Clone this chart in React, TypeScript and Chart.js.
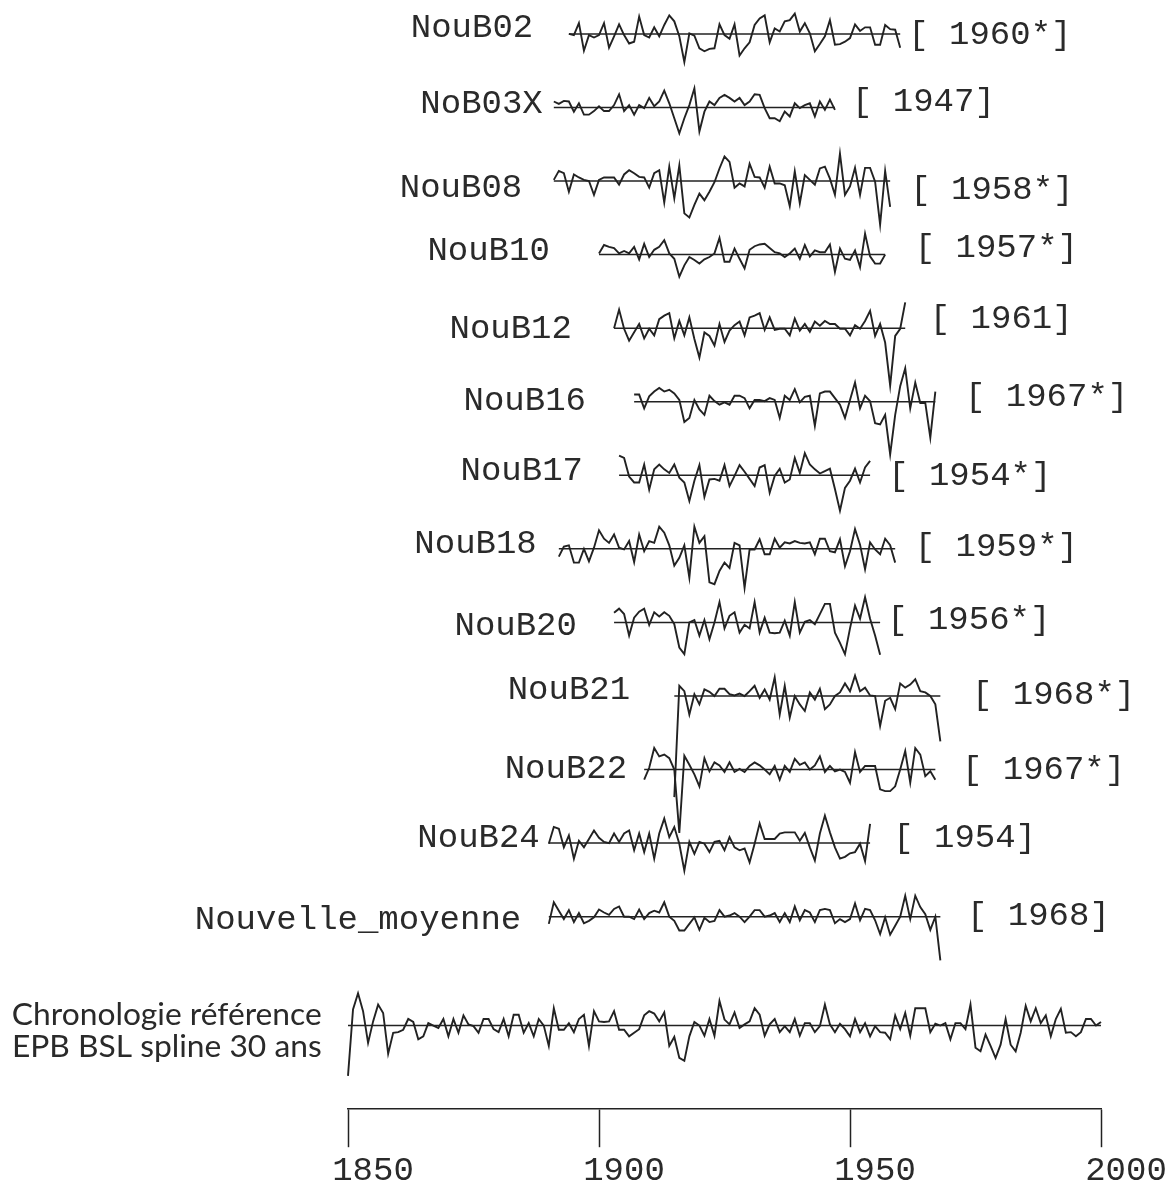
import { useEffect, useRef } from "react";
import { Chart, registerables } from "chart.js";

Chart.register(...registerables);

// ---------------- DATA ----------------
const seriesNames = [
  "NouB02", "NoB03X", "NouB08", "NouB10", "NouB12", "NouB16", "NouB17",
  "NouB18", "NouB20", "NouB21", "NouB22", "NouB24", "Nouvelle_moyenne",
];
const endLabels = [
  "[ 1960*]", "[ 1947]", "[ 1958*]", "[ 1957*]", "[ 1961]", "[ 1967*]", "[ 1954*]",
  "[ 1959*]", "[ 1956*]", "[ 1968*]", "[ 1967*]", "[ 1954]", "[ 1968]",
];
const refLabelLines = ["Chronologie référence", "EPB BSL spline 30 ans"];
// first year of each series (13 samples + reference chronology)
const startYears = [1894, 1891, 1891, 1900, 1903, 1907, 1904, 1892, 1903, 1915, 1909, 1890, 1890, 1850];
const xTickYears = [1850, 1900, 1950, 2000];

const nouB02 = [1.00, 0.98, 1.18, 0.72, 0.98, 0.94, 0.98, 1.18, 0.77, 0.96,
  1.16, 0.98, 0.84, 0.87, 1.29, 0.98, 0.94, 1.11, 0.96, 1.15,
  1.31, 1.21, 0.96, 0.53, 1.01, 0.97, 0.76, 0.71, 0.75, 0.76,
  1.16, 0.98, 0.92, 1.16, 0.64, 0.76, 0.86, 1.15, 1.26, 1.31,
  0.86, 1.09, 1.04, 1.21, 1.23, 1.34, 1.04, 1.18, 1.01, 0.71,
  0.83, 0.96, 1.23, 0.82, 0.83, 0.87, 0.93, 1.16, 1.05, 1.11,
  1.11, 0.82, 0.82, 1.15, 1.08, 1.07, 0.77];
const noB03X = [1.10, 1.06, 1.11, 1.10, 0.93, 1.07, 0.88, 0.88, 0.94, 1.02,
  0.94, 0.94, 1.04, 1.22, 0.94, 1.04, 0.88, 1.04, 0.99, 1.16,
  1.02, 1.10, 1.28, 1.07, 0.82, 0.57, 0.82, 1.04, 1.32, 0.60,
  0.93, 1.10, 1.04, 1.16, 1.21, 1.16, 1.10, 1.16, 1.04, 1.10,
  1.22, 1.21, 0.99, 0.82, 0.82, 0.77, 0.93, 0.85, 1.07, 0.99,
  1.04, 1.07, 0.85, 1.10, 0.96, 1.13, 0.96];
const nouB08 = [1.02, 1.17, 1.13, 0.82, 1.11, 1.06, 1.02, 1.00, 0.77, 1.02,
  1.06, 1.06, 1.06, 0.94, 1.11, 1.18, 1.13, 1.07, 1.06, 0.89,
  1.13, 1.18, 0.64, 1.24, 0.71, 1.26, 0.46, 0.39, 0.60, 0.79,
  0.68, 0.82, 0.98, 1.21, 1.41, 1.32, 0.89, 0.96, 0.91, 1.29,
  1.07, 1.06, 0.89, 1.24, 0.96, 0.96, 0.93, 0.58, 1.16, 0.63,
  1.10, 1.02, 0.94, 1.21, 1.24, 1.04, 0.77, 1.46, 0.77, 0.91,
  1.22, 0.77, 1.22, 1.22, 0.99, 0.27, 1.17, 0.57];
const nouB10 = [1.02, 1.16, 1.13, 1.11, 1.02, 1.06, 1.02, 1.13, 0.92, 1.18,
  0.96, 1.08, 1.13, 1.24, 1.02, 0.93, 0.63, 0.82, 0.96, 0.91,
  0.85, 0.92, 0.96, 1.02, 1.28, 0.88, 0.88, 1.10, 0.93, 0.77,
  1.08, 1.14, 1.17, 1.18, 1.11, 1.04, 1.02, 0.96, 1.02, 1.10,
  0.93, 1.16, 0.97, 1.07, 1.04, 1.04, 1.17, 0.71, 1.10, 0.93,
  0.91, 1.07, 0.79, 1.35, 0.97, 0.85, 0.85, 1.00];
const nouB12 = [1.00, 1.31, 0.99, 0.79, 0.93, 1.07, 0.83, 0.99, 0.88, 1.15,
  1.21, 1.25, 0.83, 1.12, 0.88, 1.18, 0.82, 0.51, 0.93, 0.87,
  0.71, 1.07, 0.77, 0.96, 1.05, 1.11, 0.88, 1.18, 1.21, 1.25,
  0.97, 1.18, 0.97, 0.99, 0.99, 0.88, 1.16, 0.96, 1.07, 0.94,
  1.11, 1.04, 1.12, 1.07, 1.07, 0.99, 0.99, 0.88, 1.05, 0.99,
  1.12, 1.29, 0.87, 1.07, 0.76, 0.04, 0.87, 0.99, 1.43];
const nouB16 = [1.12, 1.12, 0.89, 1.09, 1.17, 1.23, 1.17, 1.20, 1.14, 1.03,
  0.66, 0.73, 1.03, 0.87, 0.78, 1.10, 1.01, 0.95, 0.99, 0.95,
  1.10, 1.10, 1.06, 0.89, 1.03, 1.03, 1.01, 1.06, 1.03, 0.73,
  1.10, 1.03, 1.21, 0.99, 1.08, 1.10, 0.60, 1.14, 1.17, 1.17,
  1.06, 0.95, 0.73, 1.03, 1.32, 0.89, 1.10, 1.01, 0.64, 0.62,
  0.78, 0.12, 0.78, 1.26, 1.56, 0.89, 1.32, 0.98, 0.98, 0.40,
  1.17];
const nouB17 = [1.33, 1.29, 0.98, 0.88, 0.88, 1.18, 0.76, 1.10, 1.18, 1.10,
  1.04, 1.18, 0.96, 0.88, 0.57, 0.91, 1.17, 0.64, 0.93, 0.94,
  0.91, 1.17, 0.82, 0.99, 1.17, 1.06, 0.94, 0.82, 1.13, 1.17,
  0.71, 0.99, 1.11, 0.88, 0.93, 1.29, 1.04, 1.37, 1.18, 1.10,
  1.03, 1.07, 1.11, 0.77, 0.41, 0.79, 0.91, 1.11, 0.88, 1.13,
  1.24];
const nouB18 = [0.87, 1.04, 1.06, 0.77, 0.77, 1.00, 0.79, 1.02, 1.31, 1.17,
  1.10, 1.24, 1.02, 0.99, 1.13, 0.78, 1.24, 0.96, 1.13, 1.10,
  1.37, 1.27, 1.06, 0.72, 0.85, 1.06, 0.52, 1.37, 1.10, 1.21,
  0.44, 0.41, 0.63, 0.77, 0.68, 1.10, 1.06, 0.35, 0.99, 0.99,
  1.16, 0.91, 0.91, 1.17, 1.02, 1.11, 1.09, 1.13, 1.10, 1.09,
  1.11, 0.91, 1.17, 1.17, 0.96, 0.94, 1.16, 0.71, 0.96, 1.33,
  1.07, 0.66, 1.11, 0.99, 0.91, 1.17, 1.06, 0.77];
const nouB20 = [1.16, 1.23, 1.14, 0.78, 1.08, 1.18, 1.23, 0.96, 1.17, 1.10,
  1.17, 1.11, 0.97, 0.58, 0.47, 1.00, 1.04, 0.78, 1.04, 0.72,
  1.00, 1.34, 0.90, 1.11, 1.17, 0.83, 0.96, 0.90, 1.34, 0.83,
  1.08, 0.83, 0.82, 0.83, 1.03, 0.78, 1.34, 0.83, 1.01, 1.04,
  0.97, 1.14, 1.31, 1.31, 0.83, 0.66, 0.47, 0.90, 1.28, 1.06,
  1.42, 1.06, 0.78, 0.46];
const nouB21 = [-0.69, 1.17, 1.08, 0.69, 1.03, 0.86, 1.11, 1.07, 1.00, 1.12,
  1.12, 1.03, 1.01, 1.04, 1.00, 1.08, 1.17, 0.97, 1.11, 0.94,
  1.31, 0.69, 1.17, 0.64, 1.00, 0.86, 0.75, 1.06, 0.94, 1.12,
  0.78, 0.86, 1.00, 1.06, 1.21, 1.08, 1.34, 1.08, 1.14, 1.01,
  1.00, 0.50, 0.92, 0.97, 0.78, 1.21, 1.14, 1.19, 1.28, 1.08,
  1.06, 1.00, 0.86, 0.24];
const nouB22 = [0.83, 1.03, 1.36, 1.22, 1.25, 1.19, 1.00, -0.06, 1.23, 1.08,
  0.92, 0.72, 1.19, 0.97, 1.12, 1.07, 0.96, 1.12, 0.96, 1.01,
  0.96, 1.06, 1.12, 1.07, 1.00, 0.92, 1.06, 0.83, 1.06, 0.96,
  1.18, 1.08, 1.12, 1.00, 1.07, 1.22, 0.96, 1.06, 0.97, 1.00,
  0.96, 0.78, 1.29, 0.96, 1.06, 1.06, 1.06, 0.67, 0.64, 0.64,
  0.72, 1.00, 1.31, 0.78, 1.36, 1.25, 0.89, 0.97, 0.83];
const nouB24 = [0.99, 1.27, 1.24, 0.93, 1.13, 0.74, 1.04, 0.93, 1.07, 1.21,
  1.09, 1.02, 1.00, 1.16, 1.02, 1.16, 1.21, 0.88, 1.16, 0.85,
  1.16, 0.74, 1.16, 1.41, 1.10, 1.27, 0.99, 0.54, 1.02, 0.82,
  1.02, 0.99, 0.85, 1.02, 1.04, 0.88, 1.10, 0.93, 0.88, 0.91,
  0.68, 0.99, 1.33, 1.07, 1.07, 1.07, 1.16, 1.18, 1.18, 1.18,
  1.04, 1.17, 0.93, 0.71, 1.16, 1.46, 1.18, 0.93, 0.74, 0.77,
  0.83, 0.85, 0.99, 0.70, 1.32];
const nouvelleMoyenne = [0.88, 1.24, 1.10, 0.96, 1.11, 0.91, 1.06, 0.89, 0.93, 0.99,
  1.12, 1.07, 1.03, 1.13, 1.17, 1.00, 1.00, 0.96, 1.12, 0.96,
  1.06, 1.10, 1.07, 1.24, 1.00, 0.93, 0.77, 0.77, 0.88, 0.99,
  0.78, 0.98, 0.91, 0.93, 1.11, 1.00, 1.02, 1.06, 1.00, 0.91,
  1.00, 1.11, 1.11, 1.00, 1.02, 1.06, 0.91, 1.06, 0.91, 1.17,
  0.94, 1.11, 1.07, 0.91, 1.11, 1.13, 1.11, 0.89, 0.96, 0.91,
  0.96, 1.22, 0.94, 1.13, 1.11, 0.94, 0.71, 0.99, 0.70, 0.85,
  1.00, 1.35, 0.96, 1.35, 1.16, 1.04, 0.78, 1.00, 0.27];
const chronoReference = [0.16, 1.27, 1.54, 1.24, 0.71, 1.07, 1.35, 1.21, 0.53, 0.88,
  0.89, 0.93, 1.11, 1.06, 0.77, 0.82, 1.04, 1.00, 0.96, 1.11,
  0.82, 1.11, 0.88, 1.17, 1.02, 0.99, 0.88, 1.11, 1.11, 0.94,
  0.89, 1.11, 0.82, 1.18, 1.18, 0.88, 1.04, 0.82, 1.11, 1.00,
  0.66, 1.29, 0.93, 0.93, 1.04, 0.89, 1.11, 1.18, 0.66, 1.24,
  1.07, 1.06, 1.07, 1.24, 0.93, 0.93, 0.82, 0.88, 0.94, 1.17,
  1.24, 1.20, 1.07, 1.22, 0.66, 0.81, 0.46, 0.41, 0.82, 1.06,
  1.00, 0.83, 1.11, 0.83, 1.41, 1.10, 1.02,
  1.22, 0.96, 1.02, 1.07, 1.29, 1.18, 0.83, 1.02, 1.11, 0.89,
  0.99, 0.89, 1.11, 0.83, 1.04, 1.04, 0.89, 0.99, 1.35, 1.02,
  0.89, 1.03, 0.94, 0.82, 1.11, 0.89, 1.04, 0.82, 0.99, 0.89,
  0.88, 0.77, 1.17, 0.94, 1.21, 0.83, 1.29, 1.29, 1.29, 0.89,
  1.03, 1.00, 1.04, 0.77, 1.04, 1.04, 0.94, 1.35, 0.63, 0.57,
  0.85, 0.66, 0.46, 0.68, 1.11, 0.68, 0.57, 0.88, 1.33, 1.07,
  1.29, 1.04, 1.17, 0.82, 1.11, 1.28, 0.88, 0.89, 0.82, 0.89,
  1.11, 1.11, 1.00, 1.06];

const allSeries = [nouB02, noB03X, nouB08, nouB10, nouB12, nouB16, nouB17,
  nouB18, nouB20, nouB21, nouB22, nouB24, nouvelleMoyenne, chronoReference];

// ---------------- LAYOUT ----------------
const W = 1169;
const H = 1194;
const ROW_PX = 73.75;          // vertical spacing between rows
const FIRST_BASE_PX = 34;      // first row baseline from chart top
const AXIS_PX = 1112;          // axis line from top
const GAIN = 60 / ROW_PX;      // rows per index unit
const rowPos = [0, 1, 2, 3, 4, 5, 6, 7, 8, 9, 10, 11, 12, 13.48];
// label anchors (in years along the x scale) and vertical nudges (px)
const nameAnchor = [1886.9, 1888.8, 1884.7, 1890.2, 1894.6, 1897.4, 1896.8, 1887.6, 1895.6, 1906.2, 1905.6, 1888.2, 1884.5];
const nameDy = [-6, -3, 6.5, -4, 1, -1, -4.5, -5, 4, -6, -0.5, -5, 3];
const bracketAnchor = [1961.6, 1950.4, 1962.0, 1962.9, 1965.9, 1972.9, 1957.6, 1962.9, 1957.4, 1974.3, 1972.3, 1958.6, 1973.3];
const bracketDy = [1, -5, 8.5, -7, -9, -5, 0.5, -2, -2, -1, 0.5, -5, -1];
const refAnchor = 1813.9;
const LINE_COLOR = "#222";
const TEXT_COLOR = "#2a2a2a";
const MONO = '"Liberation Mono", "DejaVu Sans Mono", monospace';

const labelPlugin = {
  id: "rowLabels",
  afterDatasetsDraw(chart: any) {
    const { ctx } = chart;
    const xs = chart.scales.x;
    const ys = chart.scales.y;
    ctx.save();
    ctx.fillStyle = TEXT_COLOR;
    ctx.textBaseline = "middle";
    ctx.font = `34px ${MONO}`;
    seriesNames.forEach((name, i) => {
      const base = ys.getPixelForValue(-rowPos[i]);
      ctx.textAlign = "right";
      ctx.fillText(name, xs.getPixelForValue(nameAnchor[i]), base + nameDy[i]);
      ctx.textAlign = "left";
      ctx.fillText(endLabels[i], xs.getPixelForValue(bracketAnchor[i]), base + bracketDy[i]);
    });
    const refBase = ys.getPixelForValue(-rowPos[13]);
    ctx.textAlign = "center";
    ctx.textBaseline = "alphabetic";
    ctx.font = `30px Lato, "Open Sans", sans-serif`;
    const w = ctx.measureText(refLabelLines[0]).width;
    const size = (30 * 310) / w;
    ctx.font = `${size.toFixed(2)}px Lato, "Open Sans", sans-serif`;
    const cx = xs.getPixelForValue(refAnchor);
    ctx.fillText(refLabelLines[0], cx, refBase - 1);
    ctx.fillText(refLabelLines[1], cx, refBase + 31);
    ctx.restore();
  },
};

export default function App() {
  const ref = useRef<HTMLCanvasElement | null>(null);

  useEffect(() => {
    if (!ref.current) return;
    const datasets: any[] = [];
    allSeries.forEach((vals, i) => {
      const start = startYears[i];
      const end = start + vals.length - 1;
      const base = -rowPos[i];
      datasets.push({
        data: [{ x: start, y: base }, { x: end, y: base }],
        borderColor: LINE_COLOR,
        borderWidth: 1.5,
        pointRadius: 0,
        clip: false,
      });
      datasets.push({
        data: vals.map((v, k) => ({ x: start + k, y: base + (v - 1) * GAIN })),
        borderColor: LINE_COLOR,
        borderWidth: 1.9,
        pointRadius: 0,
        tension: 0,
        clip: false,
      });
    });

    const chart = new Chart(ref.current, {
      type: "line",
      data: { datasets },
      options: {
        animation: false,
        responsive: true,
        maintainAspectRatio: false,
        events: [],
        layout: { padding: { left: 348, right: W - 1101, top: 0, bottom: 0 } },
        plugins: { legend: { display: false }, tooltip: { enabled: false } },
        scales: {
          x: {
            type: "linear",
            min: 1850,
            max: 2000,
            afterBuildTicks: (scale: any) => {
              scale.ticks = xTickYears.map((v) => ({ value: v }));
            },
            border: { display: true, color: LINE_COLOR, width: 1.5 },
            grid: {
              drawOnChartArea: false,
              drawTicks: true,
              tickLength: 38,
              tickColor: LINE_COLOR,
              tickWidth: 1.5,
            },
            ticks: {
              callback: (v: any) => String(v),
              color: TEXT_COLOR,
              font: { family: MONO, size: 34 },
              labelOffset: 25,
              padding: 3,
              maxRotation: 0,
              autoSkip: false,
            },
          },
          y: {
            display: false,
            min: -(AXIS_PX - FIRST_BASE_PX) / ROW_PX,
            max: FIRST_BASE_PX / ROW_PX,
          },
        },
      },
      plugins: [labelPlugin],
    });
    return () => chart.destroy();
  }, []);

  return (
    <div style={{ position: "absolute", left: 0, top: 0, width: W, height: H, background: "#fff" }}>
      <canvas ref={ref} />
    </div>
  );
}
